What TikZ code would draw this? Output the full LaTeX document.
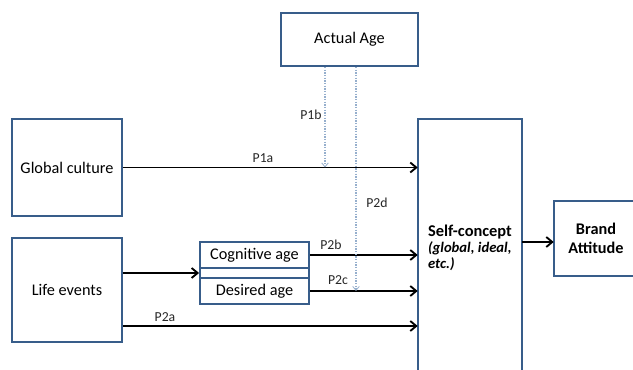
\documentclass[tikz,border=0pt]{standalone}
\usepackage{fontspec}
\setmainfont{Carlito}
\usetikzlibrary{arrows.meta}
\definecolor{boxblue}{RGB}{56,93,138}
\definecolor{dotblue}{RGB}{150,175,205}
\tikzset{
  box/.style={draw=boxblue, line width=1.4pt, rectangle, inner sep=2pt, font=\fontsize{12.2}{14}\selectfont, align=center},
  openbox/.style={draw=none, rectangle, inner sep=2pt, align=center},
  arr/.style={-{Straight Barb[length=4.5pt,width=7.5pt,line width=1.4pt]}, line width=1.4pt, black},
  dotarr/.style={-{Straight Barb[length=3pt,width=5pt,line width=0.6pt]}, dotblue, line width=1pt, densely dotted},
  lab/.style={font=\fontsize{10.3}{12}\selectfont, text=black!85, inner sep=0pt},
}
\begin{document}
\begin{tikzpicture}[x=0.75pt,y=-0.75pt]
\useasboundingbox (0,0) rectangle (633,370);
% nodes
\node[box, minimum width=82.5pt, minimum height=72.75pt] (global) at (67,167.5) {Global culture};
\node[box, minimum width=82.5pt, minimum height=78pt] (life) at (67,290) {Life events};
\node[box, minimum width=102.75pt, minimum height=39.75pt] (actual) at (349.5,39.5) {Actual Age};
\node[box, minimum width=81.75pt, minimum height=19.5pt, inner sep=0pt] (cog) at (254.5,255) {Cognitive age};
\node[box, minimum width=81.75pt, minimum height=7.5pt, inner sep=0pt] (strip) at (254.5,273) {};
\node[box, minimum width=81.75pt, minimum height=19.5pt, inner sep=0pt] (des) at (254.5,291) {Desired age};
\node[openbox, minimum width=78pt, minimum height=193.5pt, align=left] (self) at (470,248)
  {\fontsize{12.3}{13.5}\selectfont\bfseries Self-concept\\
   \fontsize{11}{13.5}\selectfont\bfseries\itshape (global, ideal,\\
   \fontsize{11}{13.5}\selectfont\bfseries\itshape etc.)};
\draw[boxblue, line width=1.4pt] (self.south west) |- (self.north east) -- (self.south east);
\node[openbox, minimum width=63pt, minimum height=56.25pt, font=\fontsize{12.2}{14.25}\selectfont\bfseries] (brand) at (596,238.5) {Brand\\Attitude};
\draw[boxblue, line width=1.4pt] (brand.north east) -- (brand.north west) -- (brand.south west) -- (brand.south east);
% helper coordinates
\coordinate (p2ay) at (0,326);
\coordinate (sby) at (0,242);
\coordinate (d1) at (325,0);
\coordinate (d2) at (356,0);
% arrows
\draw[arr] (global.east) -- (self.west |- global.east);
\draw[arr] (life.east |- strip.west) -- (strip.west);
\draw[arr] (cog.east) -- (self.west |- cog.east);
\draw[arr] (des.east) -- (self.west |- des.east);
\draw[arr] (life.east |- p2ay) -- (self.west |- p2ay);
\draw[arr] (self.east |- sby) -- (brand.west |- sby);
% dotted
\draw[dotarr] (actual.south -| d1) -- (d1 |- global.east);
\draw[dotarr] (actual.south -| d2) -- (d2 |- des.east);
% labels
\node[lab] (l1a) at (263,158) {P1a};
\node[lab] (l1b) at (311,115) {P1b};
\node[lab] (l2d) at (377,203) {P2d};
\node[lab] (l2b) at (331,245) {P2b};
\node[lab] (l2c) at (338,280) {P2c};
\node[lab] (l2a) at (165,317) {P2a};
\end{tikzpicture}
\end{document}
